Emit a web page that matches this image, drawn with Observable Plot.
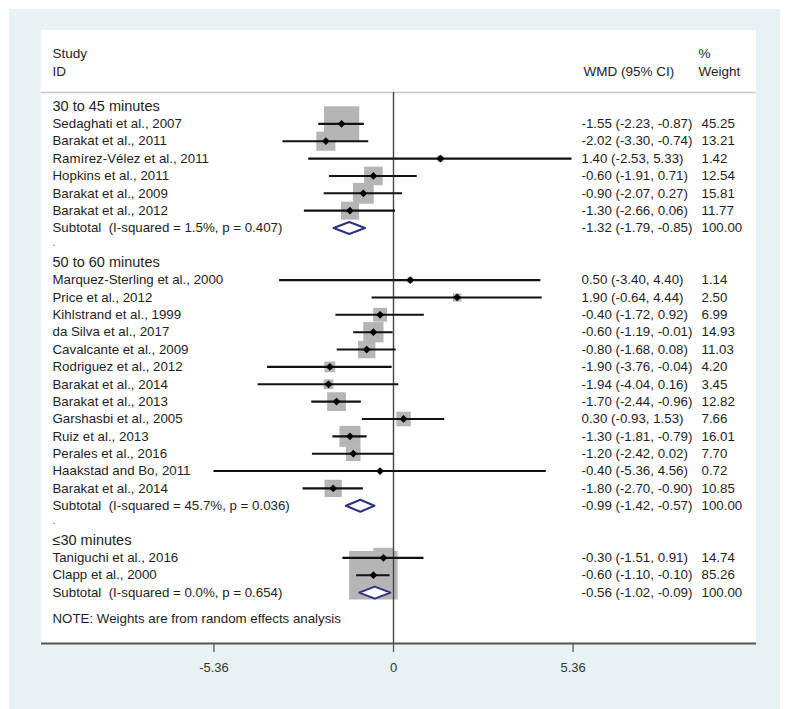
<!DOCTYPE html>
<html><head><meta charset="utf-8">
<script src="https://cdn.jsdelivr.net/npm/d3@7"></script>
<script src="https://cdn.jsdelivr.net/npm/@observablehq/plot@0.6"></script>
<style>
body{margin:0;background:#fff;}
#chart svg text{white-space:pre;}
</style>
</head><body><div id="chart"></div>
<script>
// ---- data ----
const groups = ["30 to 45 minutes", "50 to 60 minutes", "≤30 minutes"];
const studies = [
  "Sedaghati et al., 2007", "Barakat et al., 2011", "Ramírez-Vélez et al., 2011", "Hopkins et al., 2011",
  "Barakat et al., 2009", "Barakat et al., 2012",
  "Marquez-Sterling et al., 2000", "Price et al., 2012", "Kihlstrand et al., 1999", "da Silva et al., 2017",
  "Cavalcante et al., 2009", "Rodriguez et al., 2012", "Barakat et al., 2014", "Barakat et al., 2013",
  "Garshasbi et al., 2005", "Ruiz et al., 2013", "Perales et al., 2016", "Haakstad and Bo, 2011", "Barakat et al., 2014",
  "Taniguchi et al., 2016", "Clapp et al., 2000"
];
const studyGroup = [0,0,0,0,0,0, 1,1,1,1,1,1,1,1,1,1,1,1,1, 2,2];
const est = [-1.55,-2.02,1.40,-0.60,-0.90,-1.30, 0.50,1.90,-0.40,-0.60,-0.80,-1.90,-1.94,-1.70,0.30,-1.30,-1.20,-0.40,-1.80, -0.30,-0.60];
const lo  = [-2.23,-3.30,-2.53,-1.91,-2.07,-2.66, -3.40,-0.64,-1.72,-1.19,-1.68,-3.76,-4.04,-2.44,-0.93,-1.81,-2.42,-5.36,-2.70, -1.51,-1.10];
const hi  = [-0.87,-0.74,5.33,0.71,0.27,0.06, 4.40,4.44,0.92,-0.01,0.08,-0.04,0.16,-0.96,1.53,-0.79,0.02,4.56,-0.90, 0.91,-0.10];
const weight = [45.25,13.21,1.42,12.54,15.81,11.77, 1.14,2.50,6.99,14.93,11.03,4.20,3.45,12.82,7.66,16.01,7.70,0.72,10.85, 14.74,85.26];
const subEst = [-1.32,-0.99,-0.56];
const subLo  = [-1.79,-1.42,-1.02];
const subHi  = [-0.85,-0.57,-0.09];
const subI2  = ["1.5%","45.7%","0.0%"];
const subP   = ["0.407","0.036","0.654"];
const tickValues = [-5.36, 0, 5.36];
const tickLabels = ["-5.36", "0", "5.36"];
const note = "NOTE: Weights are from random effects analysis";

// ---- layout (pixels) ----
const X0 = 393, KX = 33.5;       // x=0 position, px per unit
const Y0 = 106, KY = 17.36;      // first row position, px per row
const X = px => (px - X0) / KX;
const Y = px => (px - Y0) / KY;
const font = "Liberation Sans, Arial, Helvetica, sans-serif";
const txt = "#1e1e1e";

// ---- build rows ----
const studyRows = [], headRows = [], subRows = [], dotRows = [];
let r = 0;
groups.forEach((g, gi) => {
  headRows.push({label: g, row: r}); r++;
  studies.forEach((s, i) => {
    if (studyGroup[i] === gi) {
      studyRows.push({label: s, row: r, est: est[i], lo: lo[i], hi: hi[i], w: weight[i],
        ci: `${est[i].toFixed(2)} (${lo[i].toFixed(2)}, ${hi[i].toFixed(2)})`, wt: weight[i].toFixed(2)});
      r++;
    }
  });
  subRows.push({label: `Subtotal\u00a0 (I-squared = ${subI2[gi]}, p = ${subP[gi]})`, row: r,
    est: subEst[gi], lo: subLo[gi], hi: subHi[gi],
    ci: `${subEst[gi].toFixed(2)} (${subLo[gi].toFixed(2)}, ${subHi[gi].toFixed(2)})`, wt: "100.00"});
  r++;
  if (gi < groups.length - 1) { dotRows.push({label: ".", row: r}); r++; }
});
const noteRow = r + 0.5;
const dh = 6 / KY;
const diamondPts = subRows.flatMap((d, i) => [
  {g: i, x: d.lo, y: d.row}, {g: i, x: d.est, y: d.row - dh},
  {g: i, x: d.hi, y: d.row}, {g: i, x: d.est, y: d.row + dh}, {g: i, x: d.lo, y: d.row}
]);

const leftX = X(52), ciX = X(581), wtX = X(701);

const chart = Plot.plot({
  width: 800, height: 709,
  marginTop: 0, marginLeft: 0, marginRight: 0, marginBottom: 66,
  style: {fontFamily: font, background: "#fff"},
  x: {domain: [X(0), X(800)], range: [0, 800], axis: null},
  y: {domain: [Y(0), Y(643)], range: [0, 643], axis: null},
  r: {type: "sqrt", domain: [0, 100], range: [0, 29.6]},
  marks: [
    // backgrounds
    Plot.rect([0], {x1: X(9), x2: X(780), y1: Y(9), y2: Y(709), fill: "#e8f2f5"}),
    Plot.rect([0], {x1: X(41), x2: X(756), y1: Y(30), y2: Y(643), fill: "#fff"}),
    // header
    Plot.text(["Study"], {x: leftX, y: Y(53), text: d => d, textAnchor: "start", fontSize: 13.5, fill: txt}),
    Plot.text(["ID"], {x: leftX, y: Y(71), text: d => d, textAnchor: "start", fontSize: 13.5, fill: txt}),
    Plot.text(["WMD (95% CI)"], {x: X(583), y: Y(71), text: d => d, textAnchor: "start", fontSize: 13.5, fill: txt}),
    Plot.text(["%"], {x: X(698), y: Y(53), text: d => d, textAnchor: "start", fontSize: 13.5, fill: txt}),
    Plot.text(["Weight"], {x: X(698), y: Y(71), text: d => d, textAnchor: "start", fontSize: 13.5, fill: txt}),
    Plot.ruleY([Y(92)], {x1: X(41), x2: X(756), stroke: "#c8c8c8", strokeWidth: 1.5}),
    // boxes
    Plot.dot(studyRows, {x: "est", y: "row", r: "w", symbol: "square", fill: "#b5b5b5", stroke: "none"}),
    // null line
    Plot.ruleX([0], {y1: Y(92), y2: Y(643), stroke: "#444", strokeWidth: 1.4}),
    // CI lines & points
    Plot.ruleY(studyRows, {y: "row", x1: "lo", x2: "hi", stroke: "#111", strokeWidth: 2.1}),
    Plot.dot(studyRows, {x: "est", y: "row", r: 3.5, symbol: "diamond2", fill: "#000", stroke: "none"}),
    // subtotal diamonds
    Plot.line(diamondPts, {x: "x", y: "y", z: "g", stroke: "#2b3282", strokeWidth: 2, fill: "#fff", curve: "linear"}),
    // x axis
    Plot.ruleY([Y(643)], {x1: X(41), x2: X(756), stroke: "#555", strokeWidth: 2}),
    Plot.ruleX(tickValues, {x: d => d, y1: Y(643), y2: Y(652), stroke: "#555", strokeWidth: 1.3}),
    Plot.text(tickValues, {x: d => d, y: Y(667), text: (d, i) => tickLabels[i], fontSize: 13, fill: "#333"}),
    // left labels
    Plot.text(headRows, {x: leftX, y: "row", text: "label", textAnchor: "start", fontSize: 14.5, fill: txt}),
    Plot.text(studyRows, {x: leftX, y: "row", text: "label", textAnchor: "start", fontSize: 13.3, fill: txt}),
    Plot.text(subRows, {x: leftX, y: "row", text: "label", textAnchor: "start", fontSize: 13.3, fill: txt}),
    Plot.text(dotRows, {x: leftX, y: "row", text: "label", textAnchor: "start", fontSize: 11, fill: "#666", dy: -3}),
    Plot.text([note], {x: leftX, y: noteRow, text: d => d, textAnchor: "start", fontSize: 13.3, fill: txt}),
    // right columns
    Plot.text(studyRows.concat(subRows), {x: ciX, y: "row", text: "ci", textAnchor: "start", fontSize: 13.3, fill: txt}),
    Plot.text(studyRows.concat(subRows), {x: wtX, y: "row", text: "wt", textAnchor: "start", fontSize: 13.3, fill: txt})
  ]
});
document.getElementById("chart").appendChild(chart);
</script>
</body></html>
